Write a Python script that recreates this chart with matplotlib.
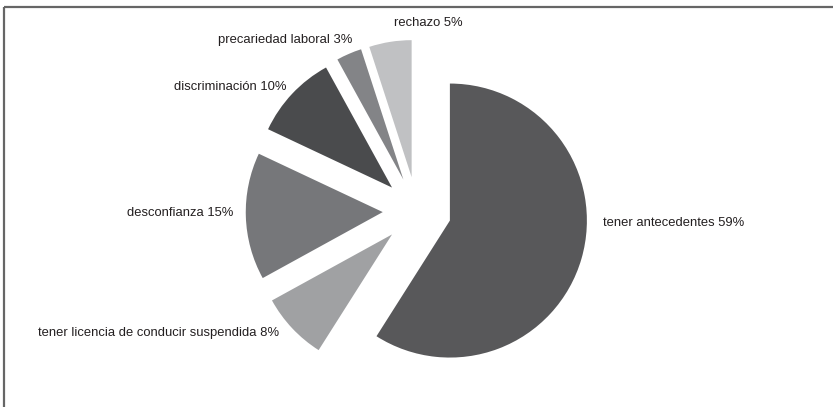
import matplotlib.pyplot as plt

# Causes shares (percent)
labels = ["tener antecedentes", "tener licencia de conducir suspendida",
          "desconfianza", "discriminación", "precariedad laboral", "rechazo"]
values = [59, 8, 15, 10, 3, 5]
colors = ["#58585a", "#a0a1a3", "#76777a", "#4a4b4d", "#838487", "#c0c1c3"]

# label anchors in figure pixels (x, y from top) and alignment
label_pos = [(603, 223, "left"), (279, 333, "right"), (233, 213, "right"),
             (287, 87, "right"), (352, 40, "right"), (428, 23, "center")]

plt.rcParams["font.family"] = ["Liberation Sans", "DejaVu Sans"]

W, H = 833, 407
R = 137
fig = plt.figure(figsize=(W / 100, H / 100), dpi=100)
ax = fig.add_axes([0, 0, 1, 1])

# every slice pulled out by a quarter of the radius
ax.pie(values, colors=colors, startangle=90, counterclock=False,
       explode=[0.25 * R] * len(values), radius=R, center=(417, H - 211),
       wedgeprops=dict(linewidth=0), frame=False)

# pie() resets the limits, so fix the pixel-sized frame afterwards
ax.set_xlim(0, W)
ax.set_ylim(0, H)
ax.set_aspect("equal")
ax.axis("off")

for name, v, (x, y, ha) in zip(labels, values, label_pos):
    ax.text(x, H - y, f"{name} {v}%", ha=ha, va="center",
            fontsize=9.4, color="#231f20")

# outer frame: top and left edges
ax.plot([4, W], [H - 6.5, H - 6.5], color="#666666", lw=1.6, solid_capstyle="butt")
ax.plot([4.5, 4.5], [0, H - 6.5], color="#666666", lw=1.6, solid_capstyle="butt")

fig.savefig("out.png", dpi=100)
